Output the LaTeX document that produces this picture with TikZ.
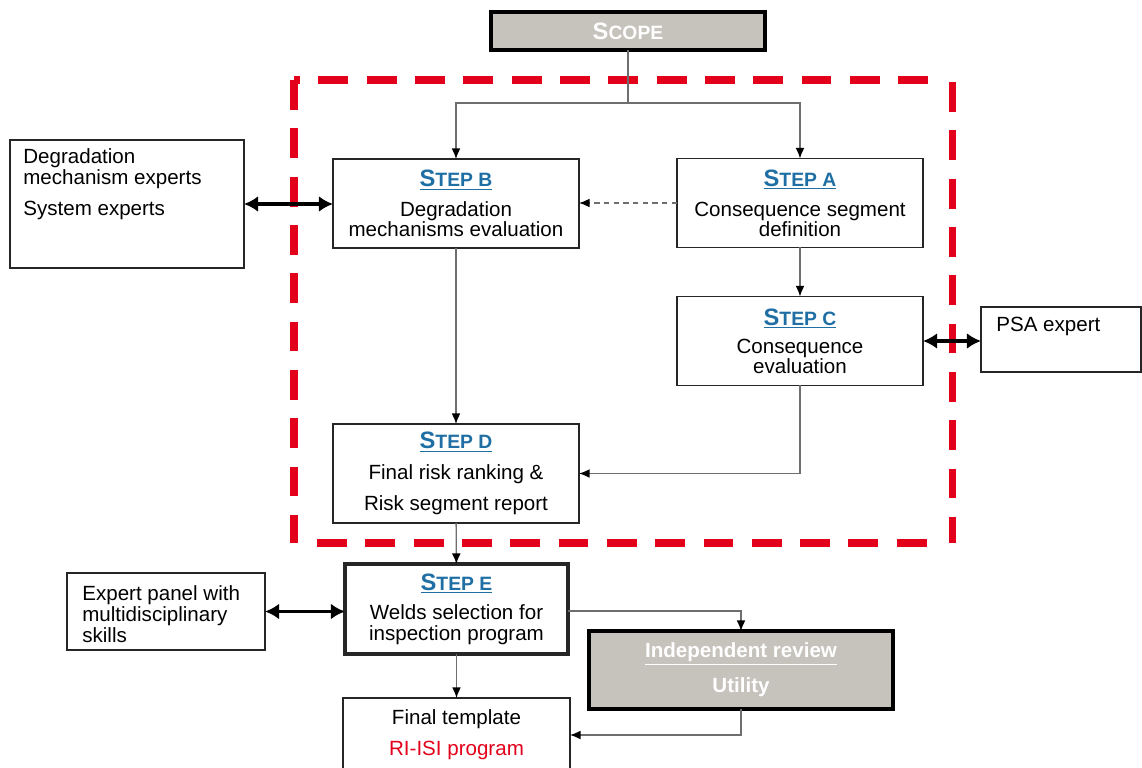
\documentclass[tikz,border=0pt]{standalone}
\usepackage{fontspec}
\setmainfont{Liberation Sans}
\usetikzlibrary{arrows.meta}
\definecolor{stepblue}{HTML}{1F6FA5}
\definecolor{boxgrey}{HTML}{C6C2BC}
\definecolor{framered}{HTML}{E2001A}
\definecolor{lineg}{HTML}{6E6E6E}
\tikzset{
    stepbox/.style = {
        draw=black!85, line width=0.8pt, rectangle, align=center,
        outer sep=0, inner sep=0,
        minimum width=4.92cm, minimum height=1.78cm,
        font=\fontsize{11.7}{11.5}\selectfont
    },
    greybox/.style = {
        draw=black, fill=boxgrey, line width=2.4pt, rectangle, align=center,
        outer sep=0, inner sep=0,
        text=white, font=\fontsize{11.7}{12}\selectfont\bfseries
    },
    expertbox/.style = {
        draw=black!85, line width=0.8pt, rectangle,
        outer sep=0, inner sep=0
    },
    experttext/.style = {
        anchor=north west, inner sep=0, align=left,
        font=\fontsize{11.7}{12}\selectfont
    },
    arr/.style = {draw=lineg, line width=0.8pt, -{Latex[color=black,length=6pt,width=5pt]}},
    biarr/.style = {draw=black, line width=2.2pt,
        {Latex[length=8pt,width=9pt]}-{Latex[length=8pt,width=9pt]}},
    redframe/.style = {draw=framered, line width=4pt, dash pattern=on 17pt off 10.5pt}
}
\newcommand{\capfirst}[2]{{\fontsize{13.5}{13}\selectfont #1}{\fontsize{11}{12}\selectfont #2}}
\newcommand{\sthead}[1]{\textcolor{stepblue}{\underline{\textbf{\capfirst{S}{TEP #1}}}}}

\begin{document}
\begin{tikzpicture}[x=0.02cm,y=-0.02cm]
\useasboundingbox (0,0) rectangle (1142,767);

% 1. dashed frame round steps A to D
\draw[redframe,dash phase=13.6pt] (294,80) -- (934,80);
\draw[redframe] (294,80) -- (294,543);
\draw[redframe] (952,82) -- (952,543);
\draw[redframe] (317,543) -- (927,543);

% 2. step boxes
\node[greybox,minimum width=5.48cm,minimum height=0.76cm] (scope) at (628,31) {\capfirst{S}{COPE}};
\node[stepbox] (stepB) at (456,203.5) {\sthead{B}\\[5.5pt] Degradation\\ mechanisms evaluation};
\node[stepbox] (stepA) at (800,203) {\sthead{A}\\[5.5pt] Consequence segment\\ definition};
\node[stepbox] (stepC) at (800,341) {\sthead{C}\\[4.5pt] Consequence\\ evaluation};
\node[stepbox,minimum height=1.98cm] (stepD) at (456,473.5)
  {\sthead{D}\\[6pt] Final risk ranking \&\\[6pt] Risk segment report};
\node[stepbox,line width=2.4pt,minimum width=4.46cm,minimum height=1.8cm] (stepE) at (456.5,609)
  {\sthead{E}\\[5.5pt] Welds selection for\\ inspection program};
\node[greybox,minimum width=6.08cm,minimum height=1.56cm] (review) at (741,670)
  {\underline{Independent review}\\[6pt] Utility};
\node[stepbox,minimum width=4.54cm,minimum height=1.48cm] (final) at (456.5,735)
  {Final template\\[6pt] \textcolor{framered}{RI-ISI program}};

% 3. expert boxes
\node[expertbox,minimum width=4.68cm,minimum height=2.56cm] (expB) at (127,204) {};
\node[experttext] (expBtext) at (23,148) {Degradation\\ mechanism experts\\[6pt] System experts};
\node[expertbox,minimum width=3.2cm,minimum height=1.3cm] (psa) at (1061,339.5) {};
\node[experttext] (psatext) at (996,317) {PSA expert};
\node[expertbox,minimum width=3.96cm,minimum height=1.54cm] (panel) at (166,611.5) {};
\node[experttext] (paneltext) at (82,585) {Expert panel with\\ multidisciplinary\\ skills};

% 4. arrows
\coordinate (split) at (628,103);
\draw[draw=lineg,line width=0.8pt] (scope.south) -- (split);
\draw[arr] (split) -| (stepB.north);
\draw[arr] (split) -| (stepA.north);
\draw[arr,dashed,dash pattern=on 3pt off 2.5pt] (stepA.west) -- (stepA.west -| stepB.east);
\draw[arr] (stepA) -- (stepC);
\draw[arr] (stepB) -- (stepD);
\draw[arr] (stepC.south) |- (stepD.east);
\draw[arr] (stepD) -- (stepE);
\draw[arr] (stepE) -- (final);
\draw[arr] ([yshift=-0.04cm]stepE.east) -| (review.north);
\draw[arr] (review.south) |- (final.east);

\draw[biarr] (expB.east) -- (expB.east -| stepB.west);
\draw[biarr] (stepC.east) -- (stepC.east -| psa.west);
\draw[biarr] (panel.east) -- (panel.east -| stepE.west);

\end{tikzpicture}
\end{document}
